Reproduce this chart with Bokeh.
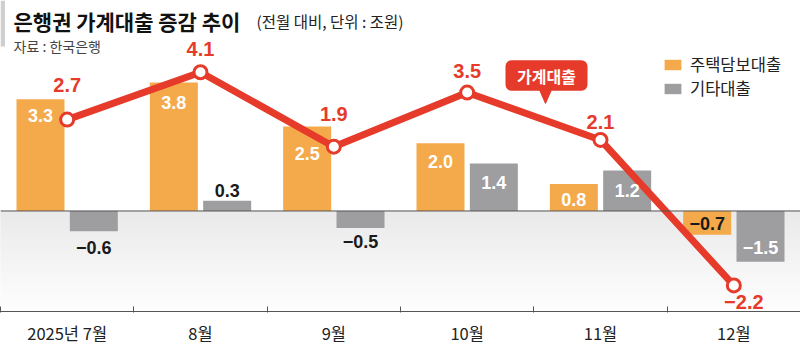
import numpy as np
from bokeh.plotting import figure
from bokeh.models import (ColumnDataSource, FixedTicker, Legend, LegendItem,
                          Label, Span, BoxAnnotation)
from bokeh.core.properties import value
from bokeh.embed import file_html
from bokeh.resources import INLINE

# ---------------- data ----------------
months = ["2025년 7월", "8월", "9월", "10월", "11월", "12월"]
mortgage = [3.3, 3.8, 2.5, 2.0, 0.8, -0.7]      # 주택담보대출
other = [-0.6, 0.3, -0.5, 1.4, 1.2, -1.5]        # 기타대출
household = [2.7, 4.1, 1.9, 3.5, 2.1, -2.2]      # 가계대출

# ---------------- styles / label placement ----------------
ORANGE = "#f4a94b"
GRAY = "#9e9ea0"
RED = "#e63b2b"
DARK = "#1a1a1a"
KFONT = "Noto Sans CJK KR"
NFONT = "Liberation Sans"

line_label_dy = [-35, -23, -33, -22, -18, 17]
line_label_dx = [0, 0, 0, 0, 0, 10]
mort_label_dy = [16, 20, 27, 18, 16, -11]
mort_label_col = ["white"] * 5 + [DARK]
other_label_dy = [16, -10, 14, 19, 20, -14]
other_label_col = [DARK, DARK, DARK, "white", "white", "white"]

W, H = 800, 347
FRAME_H = 317
Y_TOP, Y_BOT = 6.22, -2.97
N = len(months)


def sx(px):
    return px * N / W


def sy(py):
    return Y_TOP - py * (Y_TOP - Y_BOT) / FRAME_H


def fmt(v):
    return ("\u2212" if v < 0 else "") + f"{abs(v):.1f}"


xc = np.arange(N) + 0.5

p = figure(width=W, height=H, x_range=(0, N), y_range=(Y_BOT, Y_TOP),
           output_backend="svg", toolbar_location=None, y_axis_location=None,
           min_border_left=0, min_border_right=0, min_border_top=0,
           min_border_bottom=H - FRAME_H, outline_line_color=None,
           background_fill_color="white", border_fill_color="white")
p.grid.visible = False

# light gradient below zero
nb = 30
edges = np.linspace(0, Y_BOT, nb + 1)
shades = ["#%02x%02x%02x" % (c, c, c) for c in np.linspace(234, 254, nb).astype(int)]
p.quad(left=0, right=N, top=edges[:-1], bottom=edges[1:], fill_color=shades,
       line_color=shades, level="underlay")

# bars
src = ColumnDataSource(dict(
    xm=xc - 0.2, xo=xc + 0.2, xl=xc, m=mortgage, o=other, h=household,
    mt=[fmt(v) for v in mortgage], ot=[fmt(v) for v in other],
    ht=[fmt(v) for v in household],
    mdy=mort_label_dy, mcol=mort_label_col,
    ody=other_label_dy, ocol=other_label_col,
    ldy=line_label_dy, ldx=line_label_dx,
))
r1 = p.vbar(x="xm", top="m", bottom=0, width=0.36, fill_color=ORANGE,
            line_color=None, source=src)
r2 = p.vbar(x="xo", top="o", bottom=0, width=0.36, fill_color=GRAY,
            line_color=None, source=src)

p.add_layout(Span(location=0, dimension="width", line_color="#555555", line_width=1))

# household line
p.line(x="xl", y="h", line_color=RED, line_width=7, source=src)
p.scatter(x="xl", y="h", size=13, fill_color="white", line_color=RED,
          line_width=3, source=src)

# labels
p.text(x="xm", y="m", text="mt", y_offset="mdy", text_color="mcol",
       text_align="center", text_baseline="middle", text_font=value(NFONT),
       text_font_size="18px", text_font_style="bold", source=src)
p.text(x="xo", y="o", text="ot", y_offset="ody", text_color="ocol",
       text_align="center", text_baseline="middle", text_font=value(NFONT),
       text_font_size="18px", text_font_style="bold", source=src)
p.text(x="xl", y="h", text="ht", x_offset="ldx", y_offset="ldy", text_color=RED,
       text_align="center", text_baseline="middle", text_font=value(NFONT),
       text_font_size="20px", text_font_style="bold", source=src)

# x axis
ax = p.xaxis[0]
ax.ticker = FixedTicker(ticks=list(xc), minor_ticks=list(range(N + 1)))
ax.major_label_overrides = {float(v): m for v, m in zip(xc, months)}
ax.axis_line_color = "#555555"
ax.major_tick_in = 0
ax.major_tick_out = 0
ax.major_tick_line_color = None
ax.minor_tick_in = 5
ax.minor_tick_out = 1
ax.minor_tick_line_color = "#555555"
ax.major_label_text_font = KFONT
ax.major_label_text_font_size = "16.5px"
ax.major_label_text_color = "#222222"
ax.major_label_standoff = 8

# legend
legend = Legend(items=[LegendItem(label="주택담보대출", renderers=[r1]),
                       LegendItem(label="기타대출", renderers=[r2])],
                location=(662, 211), orientation="vertical",
                glyph_width=21, glyph_height=13, label_height=13, spacing=0,
                label_standoff=7, padding=0, margin=0,
                border_line_color=None, background_fill_alpha=0,
                label_text_font=KFONT, label_text_font_size="16.5px",
                label_text_color="#222222")
p.add_layout(legend)

# callout bubble
p.add_layout(BoxAnnotation(left=sx(505), right=sx(587), top=sy(61), bottom=sy(92),
                           fill_color=RED, fill_alpha=1, line_color=None,
                           border_radius=6))
p.patch(x=[sx(539), sx(551), sx(545)], y=[sy(91), sy(91), sy(105)],
        fill_color=RED, line_color=RED)
p.add_layout(Label(x=sx(546), y=sy(76.5), text="가계대출", text_align="center",
                   text_baseline="middle", text_color="white", text_font=KFONT,
                   text_font_size="16px", text_font_style="bold"))

# title block
p.add_layout(BoxAnnotation(left=sx(0), right=sx(4.5), top=sy(0), bottom=sy(47),
                           fill_color="#cfcfcf", fill_alpha=1, line_color=None))
p.add_layout(Label(x=sx(13), y=sy(21), text="은행권 가계대출 증감 추이",
                   text_align="left", text_baseline="alphabetic",
                   text_color="#111111", text_font=KFONT,
                   text_font_size="21px", text_font_style="bold"))
p.add_layout(Label(x=sx(256), y=sy(21), text="(전월 대비, 단위 : 조원)",
                   text_align="left", text_baseline="alphabetic",
                   text_color="#222222", text_font=KFONT,
                   text_font_size="15.5px"))
p.add_layout(Label(x=sx(13), y=sy(46), text="자료 : 한국은행",
                   text_align="left", text_baseline="alphabetic",
                   text_color="#444444", text_font=KFONT,
                   text_font_size="14px"))

open("out.html", "w").write(file_html(p, INLINE))
